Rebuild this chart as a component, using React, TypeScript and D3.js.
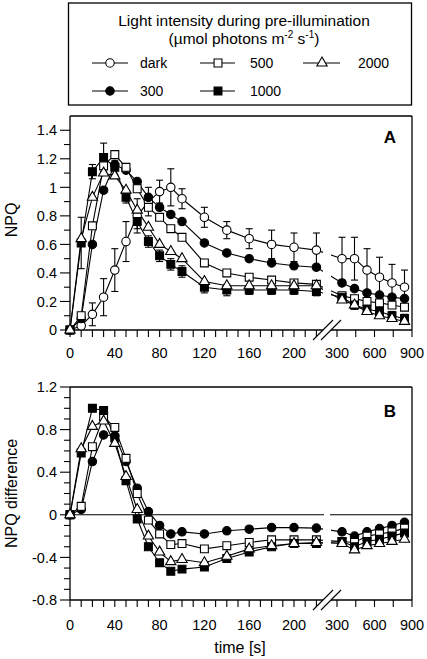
import React from "react";
import * as d3 from "d3";

// ---------- data ----------
const times = [0, 10, 20, 30, 40, 50, 60, 70, 80, 90, 100, 120, 140, 160, 180, 200, 220, 340, 440, 540, 640, 740, 840];

// Panel A: NPQ
const npqDark = [0, 0.03, 0.11, 0.23, 0.42, 0.62, 0.8, 0.9, 0.97, 1.0, 0.92, 0.79, 0.7, 0.64, 0.6, 0.58, 0.56, 0.5, 0.5, 0.42, 0.37, 0.33, 0.3];
const errDark = [0, 0.02, 0.08, 0.13, 0.15, 0.14, 0.12, 0.1, 0.08, 0.13, 0.07, 0.07, 0.06, 0.07, 0.1, 0.1, 0.12, 0.15, 0.15, 0.15, 0.14, 0.13, 0.12];
const npq300 = [0, 0.08, 0.6, 0.98, 1.16, 1.12, 1.04, 0.93, 0.86, 0.81, 0.76, 0.61, 0.54, 0.5, 0.47, 0.45, 0.44, 0.33, 0.29, 0.26, 0.245, 0.23, 0.22];
const npq500 = [0, 0.1, 0.73, 1.15, 1.23, 1.14, 0.99, 0.86, 0.79, 0.71, 0.65, 0.47, 0.4, 0.37, 0.35, 0.33, 0.32, 0.24, 0.22, 0.2, 0.19, 0.175, 0.16];
const npq1000 = [0, 0.61, 1.11, 1.21, 1.14, 0.93, 0.76, 0.62, 0.52, 0.46, 0.41, 0.3, 0.28, 0.28, 0.28, 0.28, 0.27, 0.23, 0.175, 0.145, 0.13, 0.1, 0.08];
const err1000 = [0, 0.18, 0.05, 0.1, 0.05, 0.04, 0.05, 0.04, 0.04, 0.04, 0.04, 0.04, 0.04, 0.03, 0.03, 0.03, 0.03, 0.03, 0.03, 0.03, 0.03, 0.03, 0.03];
const npq2000 = [0, 0.64, 0.93, 1.1, 1.08, 0.98, 0.84, 0.72, 0.6, 0.55, 0.5, 0.34, 0.31, 0.31, 0.31, 0.31, 0.31, 0.21, 0.175, 0.13, 0.1, 0.08, 0.06];

// Panel B: NPQ difference (vs dark)
const diff300 = [0, 0.05, 0.5, 0.75, 0.74, 0.5, 0.25, 0.03, -0.1, -0.18, -0.16, -0.18, -0.15, -0.135, -0.12, -0.12, -0.125, -0.16, -0.2, -0.16, -0.13, -0.1, -0.07];
const diff500 = [0, 0.08, 0.64, 0.92, 0.82, 0.53, 0.2, -0.05, -0.18, -0.28, -0.27, -0.32, -0.29, -0.26, -0.235, -0.235, -0.235, -0.25, -0.26, -0.2, -0.18, -0.16, -0.125];
const diff1000 = [0, 0.58, 1.0, 0.98, 0.72, 0.32, -0.04, -0.3, -0.45, -0.53, -0.51, -0.49, -0.41, -0.35, -0.3, -0.27, -0.27, -0.25, -0.3, -0.25, -0.23, -0.2, -0.17];
const diff2000 = [0, 0.62, 0.83, 0.88, 0.67, 0.36, 0.05, -0.2, -0.35, -0.44, -0.42, -0.45, -0.39, -0.32, -0.29, -0.27, -0.26, -0.27, -0.33, -0.29, -0.27, -0.25, -0.23];

const legendTitle1 = "Light intensity during pre-illumination";
const legendLabels = ["dark", "500", "2000", "300", "1000"];
const xLabelsLeft = [0, 40, 80, 120, 160, 200];
const xLabelsRight = [300, 600, 900];
const xMinorRight = [450, 750];

// ---------- layout ----------
const W = 427, H = 659;
const FONT = "'Liberation Sans', Arial, Helvetica, sans-serif";
const X0 = 70, XR = 412;
const GAP0 = 323, GAP1 = 331;

const xL = d3.scaleLinear().domain([0, 220]).range([X0, X0 + 220 * 1.12]);
const xRr = d3.scaleLinear().domain([300, 900]).range([337, XR]);
const xPos = (t: number) => (t <= 250 ? xL(t) : xRr(t));

const yA = d3.scaleLinear().domain([0, 1.5]).range([330, 116]);
const yB = d3.scaleLinear().domain([-0.8, 1.2]).range([600, 387]);

type Shape = "circle" | "square" | "triangle";
const symPath = (shape: Shape) => {
  const t = shape === "circle" ? d3.symbolCircle : shape === "square" ? d3.symbolSquare : d3.symbolTriangle;
  const size = shape === "circle" ? 56 : shape === "square" ? 62 : 46;
  return d3.symbol().type(t).size(size)() as string;
};

const seriesA = [
  { name: "dark", shape: "circle" as Shape, fill: "#fff", vals: npqDark, err: errDark },
  { name: "300", shape: "circle" as Shape, fill: "#000", vals: npq300, err: null },
  { name: "500", shape: "square" as Shape, fill: "#fff", vals: npq500, err: null },
  { name: "1000", shape: "square" as Shape, fill: "#000", vals: npq1000, err: err1000 },
  { name: "2000", shape: "triangle" as Shape, fill: "#fff", vals: npq2000, err: null },
];
const seriesB = [
  { name: "300", shape: "circle" as Shape, fill: "#000", vals: diff300 },
  { name: "500", shape: "square" as Shape, fill: "#fff", vals: diff500 },
  { name: "1000", shape: "square" as Shape, fill: "#000", vals: diff1000 },
  { name: "2000", shape: "triangle" as Shape, fill: "#fff", vals: diff2000 },
];

const fmt = (v: number) => String(+v.toFixed(1));

function XAxis({ y, labelY }: { y: number; labelY: number }) {
  const minorLeft = d3.range(0, 221, 10);
  return (
    <g>
      <line x1={X0} x2={GAP0} y1={y} y2={y} stroke="#000" strokeWidth={1.3} />
      <line x1={GAP1} x2={XR} y1={y} y2={y} stroke="#000" strokeWidth={1.3} />
      {minorLeft.map((t) => (
        <line key={"l" + t} x1={xL(t)} x2={xL(t)} y1={y} y2={y + 7} stroke="#000" strokeWidth={1.1} />
      ))}
      {[...xLabelsRight, ...xMinorRight].map((t) => (
        <line key={"r" + t} x1={xRr(t)} x2={xRr(t)} y1={y} y2={y + 7} stroke="#000" strokeWidth={1.1} />
      ))}
      {xLabelsLeft.map((t) => (
        <text key={"tl" + t} x={xL(t)} y={labelY} textAnchor="middle" fontSize={14.5} fontFamily={FONT}>{t}</text>
      ))}
      {xLabelsRight.map((t) => (
        <text key={"tr" + t} x={xRr(t)} y={labelY} textAnchor="middle" fontSize={14.5} fontFamily={FONT}>{t}</text>
      ))}
      {/* break marks */}
      {[GAP0, GAP1].map((gx) => (
        <line key={"b" + gx} x1={gx - 10} y1={y + 10} x2={gx + 10} y2={y - 10} stroke="#000" strokeWidth={1.1} />
      ))}
    </g>
  );
}

function YAxis({ scale, major, minor }: { scale: d3.ScaleLinear<number, number>; major: number[]; minor: number[] }) {
  return (
    <g>
      {minor.map((v) => (
        <line key={"m" + v} x1={X0 - 6} x2={X0} y1={scale(v)} y2={scale(v)} stroke="#000" strokeWidth={1.1} />
      ))}
      {major.map((v) => (
        <g key={"M" + v}>
          <line x1={X0 - 10} x2={X0} y1={scale(v)} y2={scale(v)} stroke="#000" strokeWidth={1.1} />
          <text x={X0 - 13} y={scale(v)} dy="0.36em" textAnchor="end" fontSize={14.5} fontFamily={FONT}>{fmt(v)}</text>
        </g>
      ))}
    </g>
  );
}

function Frame({ top, bottom }: { top: number; bottom: number }) {
  return (
    <g fill="none" stroke="#000" strokeWidth={1.3}>
      <line x1={X0} x2={X0} y1={top} y2={bottom} />
      <line x1={X0} x2={XR} y1={top} y2={top} />
      <line x1={XR} x2={XR} y1={top} y2={bottom} />
    </g>
  );
}

export default function App() {
  const mkLine = (scale: d3.ScaleLinear<number, number>) =>
    d3.line<number>().x((_, i) => xPos(times[i])).y((v) => scale(v));
  const lineA = mkLine(yA);
  const lineB = mkLine(yB);

  const minorA = d3.range(1, 15, 2).map((k) => k / 10);
  const majorA = yA.ticks(8).filter((v) => v <= 1.4 + 1e-9);
  const majorB = [-0.8, -0.4, 0, 0.4, 0.8, 1.2];
  const minorB = d3.range(-7, 12, 1).map((k) => k / 10).filter((v) => !majorB.some((m) => Math.abs(m - v) < 1e-9));

  const legendItems = [
    { label: legendLabels[0], shape: "circle" as Shape, fill: "#fff", cx: 110, cy: 63, x1: 92, x2: 128, tx: 140 },
    { label: legendLabels[1], shape: "square" as Shape, fill: "#fff", cx: 218, cy: 63, x1: 200, x2: 235, tx: 250 },
    { label: legendLabels[2], shape: "triangle" as Shape, fill: "#fff", cx: 322, cy: 63, x1: 303, x2: 340, tx: 358 },
    { label: legendLabels[3], shape: "circle" as Shape, fill: "#000", cx: 110, cy: 91, x1: 92, x2: 128, tx: 140 },
    { label: legendLabels[4], shape: "square" as Shape, fill: "#000", cx: 218, cy: 91, x1: 200, x2: 235, tx: 250 },
  ];

  return (
    <svg width={W} height={H} style={{ position: "absolute", left: 0, top: 0, background: "#fff" }} fontFamily={FONT}>
      <defs>
        <clipPath id="gapclip">
          <rect x={0} y={0} width={GAP0} height={H} />
          <rect x={GAP1} y={0} width={W - GAP1} height={H} />
        </clipPath>
      </defs>

      {/* Legend */}
      <rect x={68.5} y={3} width={343} height={102} fill="#fff" stroke="#000" strokeWidth={1.3} />
      <text x={244} y={26} textAnchor="middle" fontSize={15.5}>{legendTitle1}</text>
      <text x={244} y={44} textAnchor="middle" fontSize={15.5}>
        (µmol photons m<tspan dy={-6} fontSize={10}>-2</tspan>
        <tspan dy={6}> s</tspan><tspan dy={-6} fontSize={10}>-1</tspan><tspan dy={6}>)</tspan>
      </text>
      {legendItems.map((it) => (
        <g key={it.label}>
          <line x1={it.x1} x2={it.x2} y1={it.cy} y2={it.cy} stroke="#000" strokeWidth={1.1} />
          <path d={symPath(it.shape)} transform={`translate(${it.cx},${it.cy})`} fill={it.fill} stroke="#000" strokeWidth={1.1} />
          <text x={it.tx} y={it.cy + 5} fontSize={14}>{it.label}</text>
        </g>
      ))}

      {/* Panel A */}
      <Frame top={yA(1.5)} bottom={yA(0)} />
      <XAxis y={yA(0)} labelY={358} />
      <YAxis scale={yA} major={majorA} minor={minorA} />
      <text transform={`translate(17,${(yA(0) + yA(1.5)) / 2 - 3}) rotate(-90)`} textAnchor="middle" fontSize={16}>NPQ</text>
      <text x={390} y={143} textAnchor="middle" fontSize={17} fontWeight="bold">A</text>
      <g clipPath="url(#gapclip)">
        {seriesA.map((s) => (
          <path key={"la" + s.name} d={lineA(s.vals) as string} fill="none" stroke="#000" strokeWidth={1.1} />
        ))}
      </g>
      {seriesA.map((s) =>
        s.err ? (
          <g key={"ea" + s.name} stroke="#000" strokeWidth={1.1}>
            {s.vals.map((v, i) =>
              s.err![i] > 0 ? (
                <g key={i}>
                  <line x1={xPos(times[i])} x2={xPos(times[i])} y1={yA(v - s.err![i])} y2={yA(v + s.err![i])} />
                  <line x1={xPos(times[i]) - 3.5} x2={xPos(times[i]) + 3.5} y1={yA(v + s.err![i])} y2={yA(v + s.err![i])} />
                  <line x1={xPos(times[i]) - 3.5} x2={xPos(times[i]) + 3.5} y1={yA(v - s.err![i])} y2={yA(v - s.err![i])} />
                </g>
              ) : null
            )}
          </g>
        ) : null
      )}
      {seriesA.map((s) => (
        <g key={"ma" + s.name}>
          {s.vals.map((v, i) => (
            <path key={i} d={symPath(s.shape)} transform={`translate(${xPos(times[i])},${yA(v)})`} fill={s.fill} stroke="#000" strokeWidth={1.1} />
          ))}
        </g>
      ))}

      {/* Panel B */}
      <Frame top={yB(1.2)} bottom={yB(-0.8)} />
      <XAxis y={yB(-0.8)} labelY={630} />
      <YAxis scale={yB} major={majorB} minor={minorB} />
      <line x1={X0} x2={GAP0 + 1} y1={yB(0)} y2={yB(0)} stroke="#000" strokeWidth={1.1} />
      <line x1={GAP1 - 1} x2={XR} y1={yB(0)} y2={yB(0)} stroke="#000" strokeWidth={1.1} />
      <text transform={`translate(17,${(yB(-0.8) + yB(1.2)) / 2})  rotate(-90)`} textAnchor="middle" fontSize={16}>NPQ difference</text>
      <text x={390} y={417} textAnchor="middle" fontSize={17} fontWeight="bold">B</text>
      <g clipPath="url(#gapclip)">
        {seriesB.map((s) => (
          <path key={"lb" + s.name} d={lineB(s.vals) as string} fill="none" stroke="#000" strokeWidth={1.1} />
        ))}
      </g>
      {seriesB.map((s) => (
        <g key={"mb" + s.name}>
          {s.vals.map((v, i) => (
            <path key={i} d={symPath(s.shape)} transform={`translate(${xPos(times[i])},${yB(v)})`} fill={s.fill} stroke="#000" strokeWidth={1.1} />
          ))}
        </g>
      ))}
      <text x={240} y={653} textAnchor="middle" fontSize={16}>time [s]</text>
    </svg>
  );
}
